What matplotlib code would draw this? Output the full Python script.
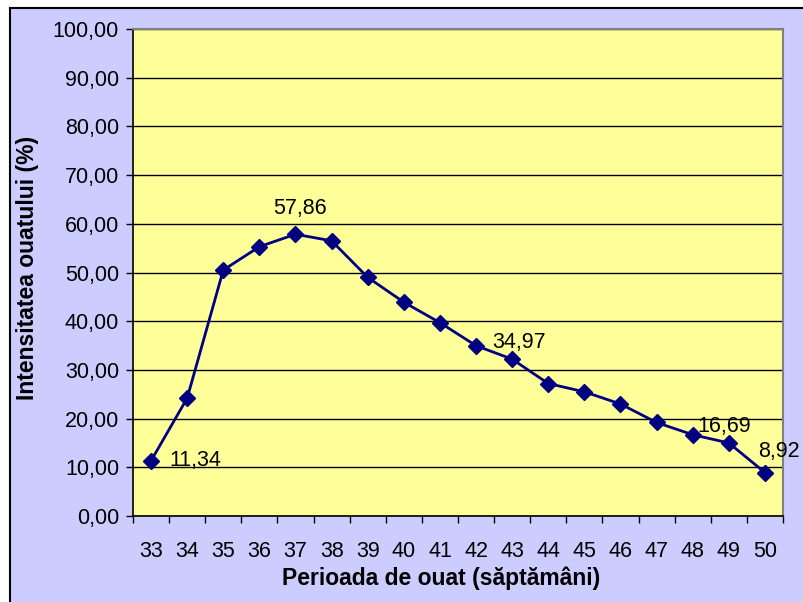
import matplotlib
matplotlib.use("Agg")
import matplotlib.pyplot as plt
from matplotlib.patches import Rectangle

plt.rcParams['font.family'] = ['Liberation Sans', 'DejaVu Sans']

weeks = [33, 34, 35, 36, 37, 38, 39, 40, 41, 42, 43, 44, 45, 46, 47, 48, 49, 50]
intensity = [11.34, 24.2, 50.5, 55.3, 57.86, 56.5, 49.0, 43.9, 39.7, 34.97,
             32.2, 27.2, 25.5, 23.0, 19.2, 16.69, 15.0, 8.92]
y_ticks = [0, 10, 20, 30, 40, 50, 60, 70, 80, 90, 100]

# labelled points: week -> (dx, dy) offset in points, ha, va
labelled = {
    33: (13, 0, 'left', 'center'),
    37: (3, 11, 'center', 'bottom'),
    42: (12, 2, 'left', 'center'),
    48: (3, 6, 'left', 'center'),
    50: (10, 15, 'center', 'center'),
}

W, H = 804, 602
fig = plt.figure(figsize=(W / 100, H / 100), dpi=100, facecolor='white')

# chart area background with border
bg = Rectangle((10 / W, 0), 1 - 10 / W, 1 - 8 / H, transform=fig.transFigure,
               facecolor='#CCCCFF', edgecolor='none', zorder=-5)
fig.patches.append(bg)
fig.add_artist(plt.Line2D([10 / W, 10 / W], [0, 1 - 8 / H], color='black', lw=1.5,
                          transform=fig.transFigure, zorder=-4))
fig.add_artist(plt.Line2D([10 / W, 1], [1 - 8 / H, 1 - 8 / H], color='black', lw=1.5,
                          transform=fig.transFigure, zorder=-4))

left, right, top, bottom = 133, 783, 29, 516
ax = fig.add_axes([left / W, 1 - bottom / H, (right - left) / W, (bottom - top) / H])
ax.set_zorder(1)
ax.set_facecolor('#FFFF99')

ax.set_xlim(32.5, 50.5)
ax.set_ylim(0, 100)

fs = 15.5
ax.set_yticks(y_ticks)
ax.set_yticklabels([f"{v:.2f}".replace('.', ',') for v in y_ticks], fontsize=fs)
ax.yaxis.grid(True, color='black', lw=1)
ax.set_axisbelow(True)

ax.set_xticks([w - 0.5 for w in weeks] + [weeks[-1] + 0.5])
ax.set_xticklabels([])
ax.set_xticks(weeks, minor=True)
ax.set_xticklabels([str(w) for w in weeks], minor=True, fontsize=fs)
ax.tick_params(axis='x', which='major', direction='out', length=5, width=1, color='black')
ax.tick_params(axis='x', which='minor', length=0, pad=18)
ax.tick_params(axis='y', direction='out', length=5, width=1, color='black', pad=5)

for side in ('top', 'right'):
    ax.spines[side].set_color('#808080')
    ax.spines[side].set_linewidth(1.5)
for side in ('left', 'bottom'):
    ax.spines[side].set_color('black')
    ax.spines[side].set_linewidth(1.2)

ax.plot(weeks, intensity, color='#000080', lw=2, marker='D', markersize=8.5,
        markerfacecolor='#000080', markeredgecolor='#000080', zorder=3, clip_on=False)

for w, v in zip(weeks, intensity):
    if w in labelled:
        dx, dy, ha, va = labelled[w]
        ax.annotate(f"{v:.2f}".replace('.', ','), (w, v), xytext=(dx, dy),
                    textcoords='offset points', ha=ha, va=va, fontsize=fs,
                    color='black', zorder=4, annotation_clip=False)

fig.text(28 / W, 1 - 268 / H, 'Intensitatea ouatului (%)', rotation=90,
         ha='center', va='center', fontsize=16.5, fontweight='bold')
fig.text(441 / W, 1 - 578 / H, 'Perioada de ouat (săptămâni)',
         ha='center', va='center', fontsize=16.5, fontweight='bold')

fig.savefig('out.png', dpi=100, facecolor=fig.get_facecolor())
